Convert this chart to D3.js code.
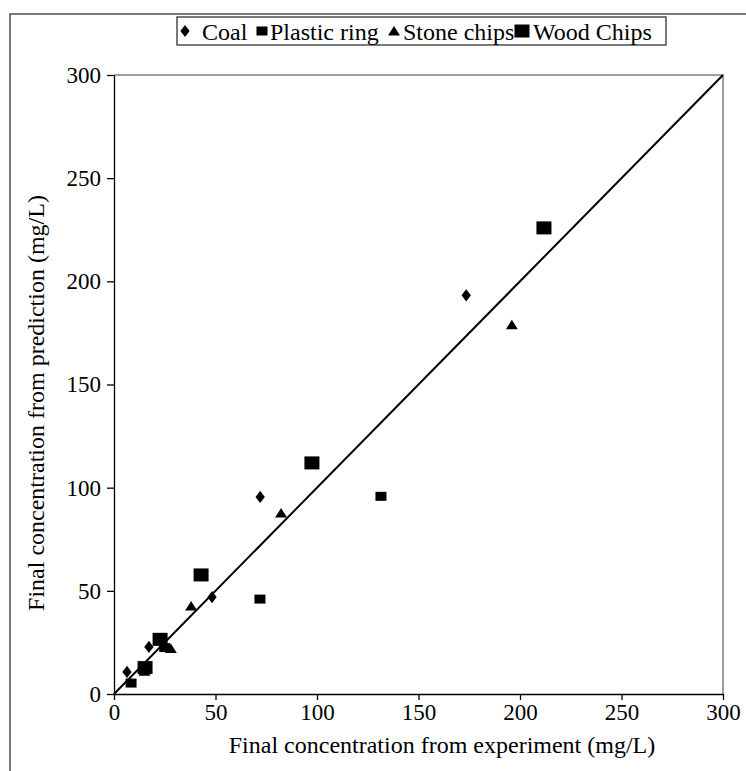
<!DOCTYPE html>
<html>
<head>
<meta charset="utf-8">
<script src="https://cdn.jsdelivr.net/npm/d3@7"></script>
</head>
<body style="margin:0">
<script>
// --- DATA ---
const seriesNames = ["Coal", "Plastic ring", "Stone chips", "Wood Chips"];
const coal = [[6.4, 10.7], [17.2, 22.8], [48.3, 47], [72, 95.5], [173.5, 193.2]];
const plasticRing = [[8.4, 5.3], [25, 22.5], [71.9, 46], [131.5, 95.8]];
const stoneChips = [[15, 11], [28, 22], [38, 42.7], [82.3, 87.7], [196, 179]];
const woodChips = [[15.3, 12.8], [22.7, 26.5], [42.9, 57.7], [97.5, 112], [211.8, 225.9]];
const tickValues = [0, 50, 100, 150, 200, 250, 300];
const lineOfEquality = [[0, 0], [300, 300]];

const serif = '"Liberation Serif"';

const width = 746, height = 771;
const svg = d3.select("body").append("svg")
  .attr("width", width).attr("height", height);

// outer frame (runs off the picture on the right and bottom)
svg.append("rect")
  .attr("x", 10).attr("y", 14).attr("width", 800).attr("height", 800)
  .attr("fill", "none").attr("stroke", "#333").attr("stroke-width", 1.3);

const x = d3.scaleLinear().domain([0, 300]).range([114, 723]);
const y = d3.scaleLinear().domain([0, 300]).range([694, 75]);

// plot frame: top and right in grey
svg.append("path")
  .attr("d", `M${x(0)},${y(300)}H${x(300)}V${y(0)}`)
  .attr("fill", "none").attr("stroke", "#808080").attr("stroke-width", 1.5);

// --- AXES ---
const xAxis = svg.append("g")
  .attr("transform", `translate(0,${y(0)})`)
  .call(d3.axisBottom(x).tickValues(tickValues).tickSize(6).tickSizeOuter(0).tickPadding(4));
const yAxis = svg.append("g")
  .attr("transform", `translate(${x(0)},0)`)
  .call(d3.axisLeft(y).tickValues(tickValues).tickSize(7).tickSizeOuter(0).tickPadding(6));

[xAxis, yAxis].forEach(a => {
  a.attr("font-family", null).attr("font-size", null);
  a.selectAll("path, line").attr("stroke", "#000").attr("stroke-width", 1.3);
  a.selectAll("text")
    .attr("fill", "#000")
    .style("font-family", serif)
    .style("font-size", "23px");
});

svg.append("text")
  .attr("x", 442).attr("y", 753)
  .attr("text-anchor", "middle")
  .style("font-family", serif)
  .style("font-size", "24px")
  .text("Final concentration from experiment (mg/L)");

svg.append("text")
  .attr("transform", "translate(44,403) rotate(-90)")
  .attr("text-anchor", "middle")
  .style("font-family", serif)
  .style("font-size", "24px")
  .text("Final concentration from prediction (mg/L)");

// --- 1:1 LINE ---
svg.append("path")
  .datum(lineOfEquality)
  .attr("d", d3.line().x(d => x(d[0])).y(d => y(d[1])))
  .attr("stroke", "#000").attr("stroke-width", 2).attr("fill", "none");

// --- MARKERS ---
const markers = {
  "Coal": g => g.append("path").attr("d", d3.symbol(d3.symbolDiamond, 48)()).attr("transform", "scale(1.25,0.95)"),
  "Plastic ring": g => g.append("rect").attr("x", -5.5).attr("y", -4.5).attr("width", 11).attr("height", 9),
  "Stone chips": g => g.append("path").attr("d", "M0,-5L6,4.5L-6,4.5Z"),
  "Wood Chips": g => g.append("rect").attr("x", -7.5).attr("y", -6.5).attr("width", 15).attr("height", 13)
};
const allSeries = [coal, plasticRing, stoneChips, woodChips];

allSeries.forEach((pts, i) => {
  const name = seriesNames[i];
  svg.append("g").selectAll("g")
    .data(pts)
    .enter()
    .append("g")
    .attr("transform", d => `translate(${x(d[0])},${y(d[1])})`)
    .each(function() { markers[name](d3.select(this)).attr("fill", "#000"); });
});

// --- LEGEND ---
const legend = svg.append("g");
legend.append("rect")
  .attr("x", 177).attr("y", 17).attr("width", 489).attr("height", 28)
  .attr("fill", "#fff").attr("stroke", "#333").attr("stroke-width", 1.3);

const legendX = [[185, 202], [262, 270], [394, 403], [522, 533]];
seriesNames.forEach((name, i) => {
  const row = legend.append("g");
  markers[name](row.append("g").attr("transform", `translate(${legendX[i][0]},31)`)).attr("fill", "#000");
  row.append("text")
    .attr("x", legendX[i][1]).attr("y", 40)
    .style("font-family", serif)
    .style("font-size", "24px")
    .text(name);
});
</script>
</body>
</html>
